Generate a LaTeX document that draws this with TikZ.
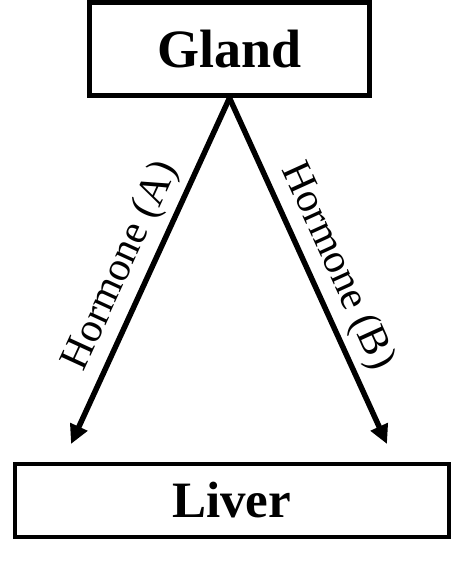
\documentclass[tikz,border=0pt]{standalone}
\usepackage{fontspec}
\setmainfont{Liberation Serif}
\usetikzlibrary{arrows.meta}
\begin{document}
\begin{tikzpicture}
  [x=1pt,y=-1pt,
   organ/.style={draw,inner sep=0pt,font=\fontsize{54}{54}\selectfont\bfseries},
   hormone/.style={sloped,above=3pt,font=\fontsize{41.5}{41.5}\selectfont},
   flow/.style={line width=5.5pt,-{Triangle[length=19pt,width=18pt]}}]
  \useasboundingbox (0,0) rectangle (453,561);
  \node[organ,line width=5pt,minimum width=280pt,minimum height=93pt] (gland) at (229.5,49) {Gland};
  \node[organ,line width=4pt,minimum width=434pt,minimum height=73pt,
        font=\fontsize{51}{51}\selectfont\bfseries] (liver) at (231.5,500.3) {Liver};
  \coordinate (tA) at (71,444);
  \coordinate (tB) at (387,444);

  \foreach \to/\name/\p in {tA/A/0.52,tB/B/0.52}
    \draw[flow] (gland.south) -- node[hormone,pos=\p] {Hormone (\name)} (\to);

\end{tikzpicture}
\end{document}
